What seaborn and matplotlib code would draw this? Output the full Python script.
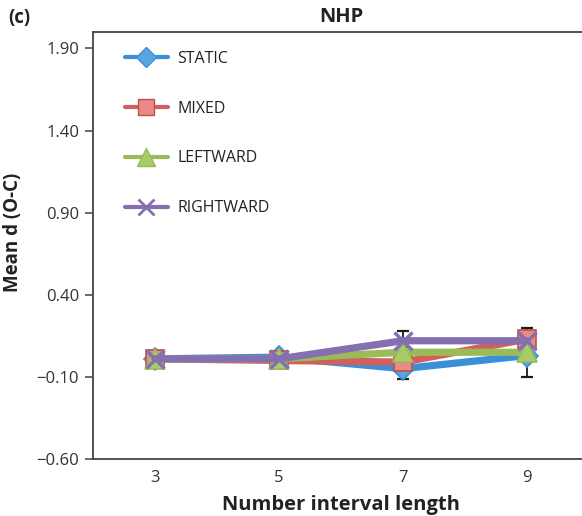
import matplotlib
matplotlib.use("Agg")
import matplotlib.pyplot as plt
from matplotlib.lines import Line2D
import numpy as np
import pandas as pd
import seaborn as sns

# Interval lengths on the x axis
categories = ["3", "5", "7", "9"]

# Mean d (O-C) per condition
static = [0.01, 0.02, -0.05, 0.03]
mixed = [0.01, 0.00, -0.01, 0.13]
leftward = [0.01, 0.01, 0.05, 0.05]
rightward = [0.01, 0.01, 0.12, 0.12]

# Error bar half-widths per condition
static_err = [0.01, 0.01, 0.065, 0.13]
mixed_err = [0.01, 0.01, 0.03, 0.07]
leftward_err = [0.01, 0.01, 0.03, 0.03]
rightward_err = [0.01, 0.01, 0.06, 0.06]

conditions = ["STATIC", "MIXED", "LEFTWARD", "RIGHTWARD"]
yticks = [1.90, 1.40, 0.90, 0.40, -0.10, -0.60]

sns.set_style("white")
plt.rcParams["font.family"] = ["Open Sans", "DejaVu Sans"]

rows = []
for cond, vals, errs in zip(conditions,
                            [static, mixed, leftward, rightward],
                            [static_err, mixed_err, leftward_err, rightward_err]):
    for i, (c, v, e) in enumerate(zip(categories, vals, errs)):
        rows.append({"condition": cond, "interval": c, "pos": i,
                     "value": v, "err": e})
df = pd.DataFrame(rows)

styles = {
    "STATIC": dict(color="#3A8FD6", marker="D", mfc="#5AA5E0", mec="#3A8FD6", ms=11),
    "MIXED": dict(color="#D0605C", marker="s", mfc="#E88A85", mec="#C0504D", ms=13),
    "LEFTWARD": dict(color="#9BBB59", marker="^", mfc="#A8CC6A", mec="#9BBB59", ms=14),
    "RIGHTWARD": dict(color="#8470B0", marker="x", mfc="#8470B0", mec="#8470B0", ms=13),
}

fig = plt.figure(figsize=(5.82, 5.16), dpi=100)
ax = fig.add_axes([93 / 582, 1 - 459 / 516, (589 - 93) / 582, (459 - 32) / 516])

# error bars underneath the lines
for cond in conditions:
    sub = df[df["condition"] == cond]
    ax.errorbar(sub["pos"], sub["value"], yerr=sub["err"], fmt="none",
                ecolor="#1a1a1a", elinewidth=1.3, capsize=4.5, capthick=1.6,
                zorder=1)

for k, cond in enumerate(conditions):
    st = styles[cond]
    sub = df[df["condition"] == cond]
    sns.lineplot(data=sub, x="pos", y="value", ax=ax, color=st["color"],
                 linewidth=5.2, marker=st["marker"], markersize=st["ms"],
                 markerfacecolor=st["mfc"], markeredgecolor=st["mec"],
                 markeredgewidth=2.5 if st["marker"] == "x" else 1.2,
                 legend=False, zorder=2 + k)

ax.set_xlim(-0.5, 3.5)
ax.set_ylim(-0.6, 2.0)
ax.set_xticks(range(len(categories)))
ax.set_xticklabels(categories)
ax.set_yticks(yticks)
ax.set_yticklabels([f"{t:.2f}".replace("-", "\u2212") for t in yticks])

ax.tick_params(axis="y", direction="out", length=6, width=1.1, color="#444444",
               labelsize=12, labelcolor="#333333", pad=4, left=True)
ax.tick_params(axis="x", length=0, labelsize=12, labelcolor="#333333", pad=8)

for side in ["left", "bottom", "top", "right"]:
    ax.spines[side].set_visible(True)
    ax.spines[side].set_color("#444444")
    ax.spines[side].set_linewidth(1.3)

ax.set_xlabel("Number interval length", fontsize=14.5, fontweight="bold",
              color="#222222")
ax.set_ylabel("Mean d (O-C)", fontsize=13.5, fontweight="bold", color="#222222")
ax.xaxis.set_label_coords(0.5, -0.085)
ax.yaxis.set_label_coords(-0.142, 0.53)
ax.set_title("NHP", fontsize=14.5, fontweight="bold", color="#222222", pad=7)
fig.text(8 / 582, 1 - 18 / 516, "(c)", fontsize=13.5, fontweight="bold",
         color="#222222", va="center", ha="left")

handles = []
for cond in conditions:
    st = styles[cond]
    handles.append(Line2D([], [], color=st["color"], linewidth=3,
                          marker=st["marker"], markersize=st["ms"] - 1,
                          markerfacecolor=st["mfc"], markeredgecolor=st["mec"],
                          markeredgewidth=2 if st["marker"] == "x" else 1))
leg = ax.legend(handles, conditions, loc="upper left",
                bbox_to_anchor=(0.035, 0.99), frameon=False, fontsize=11.5,
                handlelength=2.7, labelspacing=2.12, handletextpad=0.6)
for t in leg.get_texts():
    t.set_color("#222222")

fig.savefig("out.png", dpi=100, facecolor="white")
